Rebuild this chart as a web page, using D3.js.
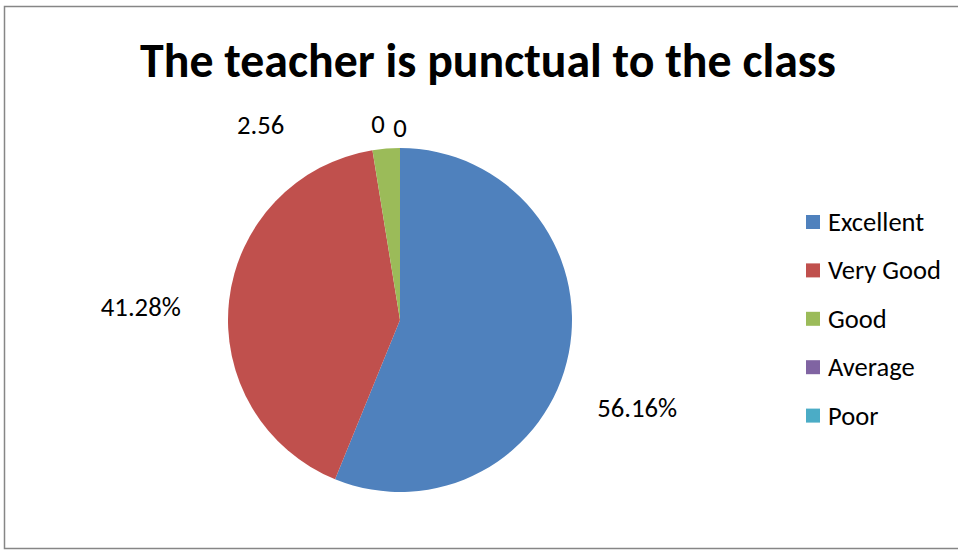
<!DOCTYPE html>
<html><head><meta charset="utf-8">
<script src="https://cdn.jsdelivr.net/npm/d3@7"></script>
<style>html,body{margin:0;padding:0;background:#fff;}svg{display:block;}</style>
</head><body>
<svg id="chart" width="958" height="550"></svg>
<script>
const categories = ["Excellent", "Very Good", "Good", "Average", "Poor"];
const values = [56.16, 41.28, 2.56, 0, 0];
const labels = ["56.16%", "41.28%", "2.56", "0", "0"];
const colors = ["#4F81BD", "#C0504D", "#9BBB59", "#8064A2", "#4BACC6"];
const title = "The teacher is punctual to the class";

// label nudges (layout only)
const labelNudge = [[-11, 39], [-8, 16], [-119, 57], [-22, 57], [0, 61]];

const svg = d3.select("#chart");
const font = "Carlito, Calibri, Lato, 'Open Sans', sans-serif";

function fitSize(text, base, target, bold) {
  const m = svg.append("text").attr("font-family", font).attr("font-size", base)
    .attr("font-weight", bold ? "bold" : "normal").text(text);
  const w = m.node().getComputedTextLength();
  m.remove();
  return base * target / w;
}

svg.append("rect").attr("x", 4.5).attr("y", 6.5).attr("width", 960).attr("height", 542)
  .attr("fill", "#fff").attr("stroke", "#868686").attr("stroke-width", 1.5);

svg.append("text").attr("x", 488).attr("y", 60).attr("text-anchor", "middle")
  .attr("dominant-baseline", "central")
  .attr("font-family", font).attr("font-weight", "bold")
  .attr("font-size", fitSize(title, 40, 696, true)).attr("fill", "#000").text(title);

const cx = 400, cy = 320, r = 172;
const pie = d3.pie().sort(null).value(d => d)(values);
const arc = d3.arc().innerRadius(0).outerRadius(r);
const g = svg.append("g").attr("transform", `translate(${cx},${cy})`);
g.selectAll("path").data(pie).join("path").attr("d", arc).attr("fill", (d, i) => colors[i]);

const lblSize = fitSize("56.16%", 20, 80, false);
const labelArc = d3.arc().innerRadius(r * 1.47).outerRadius(r * 1.47);
g.selectAll("text.lbl").data(pie).join("text").attr("class", "lbl")
  .attr("x", (d, i) => labelArc.centroid(d)[0] + labelNudge[i][0])
  .attr("y", (d, i) => labelArc.centroid(d)[1] + labelNudge[i][1])
  .attr("text-anchor", "middle").attr("dominant-baseline", "central")
  .attr("font-family", font).attr("font-size", lblSize).attr("fill", "#000")
  .text((d, i) => labels[i]);

const legSize = fitSize("Very Good", 22, 113, false);
const lg = svg.append("g");
categories.forEach((c, i) => {
  const y = 222 + i * 48.4;
  lg.append("rect").attr("x", 806).attr("y", y - 7).attr("width", 14).attr("height", 14).attr("fill", colors[i]);
  lg.append("text").attr("x", 828).attr("y", y).attr("dominant-baseline", "central")
    .attr("font-family", font).attr("font-size", legSize).attr("fill", "#000").text(c);
});
</script>
</body></html>
